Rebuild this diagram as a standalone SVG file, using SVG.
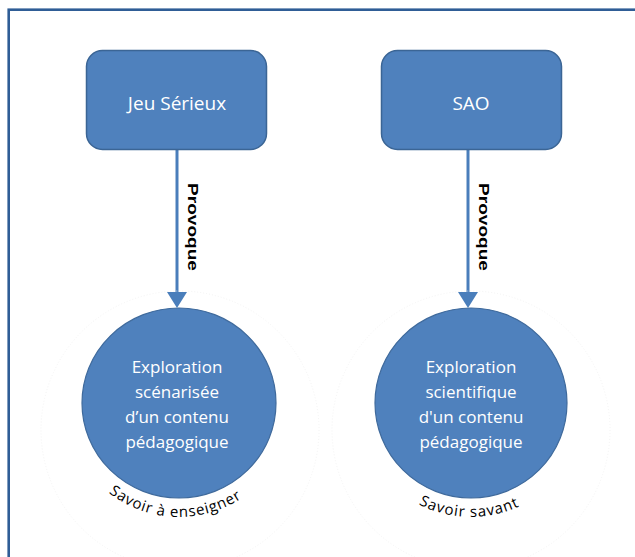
<svg xmlns="http://www.w3.org/2000/svg" width="635" height="557" viewBox="0 0 635 557">
  <style>
    .frame { fill: none; stroke: #2f5d96; stroke-width: 2.6; }
    .box { fill: #4f81bd; stroke: #3b6595; stroke-width: 1.5; }
    .disc { fill: #4f81bd; stroke: #3f6a9c; stroke-width: 1.2; }
    .halo { fill: none; stroke: #f0f0f0; stroke-width: 0.8; stroke-dasharray: 1 2; }
    .label { font-family: "Open Sans", "DejaVu Sans", sans-serif; fill: #ffffff; text-anchor: middle; }
    .title { font-size: 19px; }
    .body { font-size: 17px; }
    .edge { stroke: #4a7ebb; stroke-width: 3; fill: none; }
    .head { fill: #4a7ebb; }
    .verb { font-family: "Liberation Sans", Arial, sans-serif; font-weight: bold; font-size: 14px; fill: #000000; }
    .arc { font-family: "Open Sans", "DejaVu Sans", sans-serif; font-size: 15px; fill: #000000; text-anchor: middle; }
  </style>
  <defs>
    <path id="arc-left" d="M 80.3 460 A 114 114 0 0 0 277.7 460"/>
    <path id="arc-right" d="M 372.3 460 A 114 114 0 0 0 569.7 460"/>
  </defs>

  <rect x="0" y="0" width="635" height="557" fill="#ffffff"/>
  <!-- page border -->
  <rect class="frame" x="8.7" y="9.7" width="640" height="560"/>

  <!-- connectors -->
  <g id="connectors">
    <line class="edge" x1="177" y1="150" x2="177" y2="295"/>
    <polygon class="head" points="167,292 187,292 177,308"/>
    <text class="verb" transform="translate(188,183) rotate(90)" textLength="88" lengthAdjust="spacingAndGlyphs">Provoque</text>

    <line class="edge" x1="468" y1="150" x2="468" y2="295"/>
    <polygon class="head" points="458,292 478,292 468,308"/>
    <text class="verb" transform="translate(479,183) rotate(90)" textLength="88" lengthAdjust="spacingAndGlyphs">Provoque</text>
  </g>

  <g id="jeu-serieux">
    <rect class="box" x="86.5" y="50.5" width="180" height="99" rx="16" ry="16"/>
    <text class="label title" x="177" y="110">Jeu Sérieux</text>
  </g>

  <g id="sao">
    <rect class="box" x="381.5" y="50.5" width="180" height="99" rx="16" ry="16"/>
    <text class="label title" x="471" y="110">SAO</text>
  </g>

  <g id="exploration-scenarisee">
    <circle class="halo" cx="180" cy="430" r="139"/>
    <ellipse class="disc" cx="179" cy="403" rx="97" ry="95"/>
    <text class="label body" x="177" y="373">Exploration</text>
    <text class="label body" x="177" y="398">scénarisée</text>
    <text class="label body" x="177" y="423">d’un contenu</text>
    <text class="label body" x="177" y="448">pédagogique</text>
    <text class="arc"><textPath href="#arc-left" startOffset="48%" textLength="142" lengthAdjust="spacing">Savoir à enseigner</textPath></text>
  </g>

  <g id="exploration-scientifique">
    <circle class="halo" cx="471" cy="430" r="139"/>
    <ellipse class="disc" cx="471" cy="403" rx="96" ry="95"/>
    <text class="label body" x="471" y="373">Exploration</text>
    <text class="label body" x="471" y="398">scientifique</text>
    <text class="label body" x="471" y="423">d'un contenu</text>
    <text class="label body" x="471" y="448">pédagogique</text>
    <text class="arc"><textPath href="#arc-right" startOffset="49%" textLength="104" lengthAdjust="spacing">Savoir savant</textPath></text>
  </g>
</svg>
